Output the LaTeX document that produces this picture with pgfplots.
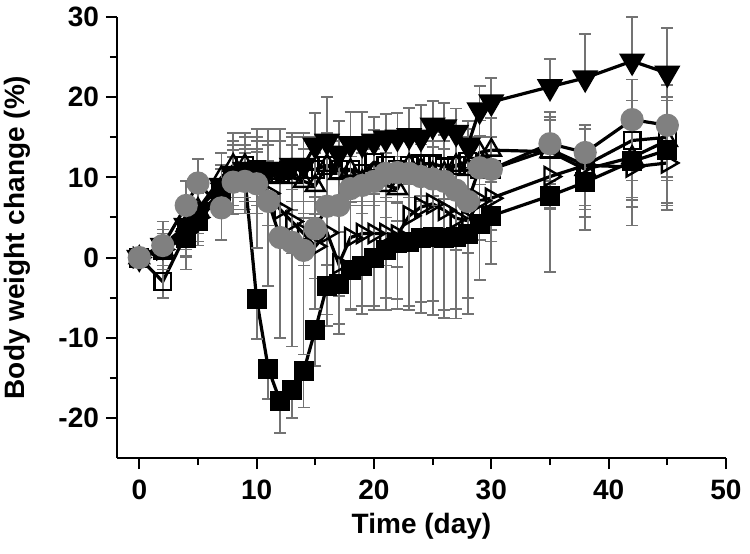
\documentclass[border=0pt]{standalone}
\usepackage{pgfplots}
\pgfplotsset{compat=1.18}
\usepackage{pgfplotstable}
\usepackage{fontspec}
\setmainfont{Liberation Sans}

% x y ep em
\pgfplotstableread{
x y ep em
0 0 0 0
2 1 2 2
4 2.5 2 4
5 4.5 2 3
7 8 3 3
8 9.5 3 3
9 10 3 3
10 -5.2 0 5
11 -13.9 0 3.7
12 -17.9 0 4
13 -16.5 0 3.5
14 -14.2 0 4.5
15 -9 0 4.5
16 -3.5 0 5
17 -3.3 0 5
18 -1.5 0 5
19 -1 0 6
20 0 0 6
21 1 0 6
22 1.8 0 7
23 2 0 8
24 2.5 0 8
25 2.6 0 8
26 2.5 0 9
27 2.6 0 9
28 3 0 8
29 4.2 0 7
30 5.2 0 6
35 7.7 0 9.5
38 9.4 0 6
42 12 0 8
45 13.4 0 7.5
}\fsq

\pgfplotstableread{
x y ep em
0 0 0 0
2 1.5 2 0
4 4 2 0
5 6 3 0
7 9 4 0
8 10.5 4 0
9 11 4 0
10 11 5 0
11 11 5 0
12 11 5 0
13 11.5 4 0
14 11.5 4 0
15 14 4 0
16 14.5 5.5 0
17 13 4 0
18 14.2 4 0
19 14.2 4 0
20 14.5 3 0
21 14.9 3 0
22 15 3 0
23 15.2 3.5 0
24 15 4 0
25 16.5 3 0
26 16.3 3 0
27 15.6 3 0
28 14 3 0
29 18.4 3 0
30 19.4 3 0
35 21.3 3.5 0
38 22.4 5.5 0
42 24.5 5.5 0
45 23 5.6 0
}\fdt

\pgfplotstableread{
x y ep em
0 0 0 0
2 -3 2 2
4 3 3 3
5 5 3 3
7 8 3 3
8 10 4 4
9 11.5 4 4
10 11 4 4
11 10.5 4 4
12 10.5 4 4
13 11 4 4
14 11 4 4
15 11 4 4
16 11.5 4 4
17 11 4 4
18 11 4 4
19 10.5 4 4
20 11.9 4 4
21 11.5 4 4
22 11 4 4
23 11.5 4 4
24 11.7 4 4
25 11.7 4 4
26 11.3 4 4
27 11.5 4 4
28 12 4 4
29 11 4 4
30 11 4 4
35 13.5 4 4
38 11.5 5 5
42 14.6 5 5
45 15 5 5
}\osq

\pgfplotstableread{
x y ep em
0 0 0 0
2 1 2 2
4 4 3 3
5 6 3 3
7 10 3 3
8 11.5 4 4
9 11.5 4 4
10 10.5 4 4
11 10 4 4
12 10.5 4 4
13 10 4 4
14 9.5 4 4
15 9 4 4
16 11.5 4 4
17 10.5 4 4
18 10.9 4 4
19 9.5 4 4
20 10.5 4 4
21 9 4 4
22 8.6 4 4
23 11.5 4 4
24 11 4 4
25 10.5 4 4
26 10.5 4 4
27 11.5 4 4
28 11 4 4
29 13.1 4 4
30 13.4 4 4
35 13.2 4 4
38 11 5 5
42 12.5 5 5
45 14.6 5 5
}\out

\pgfplotstableread{
x y ep em
0 0 0 0
2 1 2 2
4 3.2 3 3
5 5 3 3
7 8.5 3 3
8 10 4 4
9 10 4 4
10 9.5 4 4
11 8 4 4
12 6 4 4
13 4.5 4 4
14 3 4 4
15 1.4 4 4
16 3.1 4 4
17 -0.8 4 4
18 2.5 4 4
19 3 4 4
20 3 4 4
21 3 4 4
22 2.8 4 4
23 5.2 4 4
24 6.3 4 4
25 6.7 4 4
26 5.9 4 4
27 4.9 4 4
28 4.6 4 4
29 7.1 4 4
30 7.4 4 4
35 10.1 4 4
38 11.5 5 5
42 11.3 5 5
45 11.8 5 5
}\ort

\pgfplotstableread{
x y ep em
0 0 0 0
2 1.5 3 3
4 6.5 3 3
5 9.3 3 3
7 6.2 3 4
8 9.4 4 4
9 9.5 4 4
10 9.2 4 8
11 7 4 10.5
12 2.5 4 12.5
13 1.9 4 13
14 0.9 4 13
15 3.6 4 10
16 6.4 4 13.5
17 6.5 4 16
18 8.6 4 15
19 9 4 15
20 9.5 4 16
21 10.5 4 17
22 10.6 4 17
23 10.5 4 17
24 10.1 4 17
25 9.8 4 17
26 9.5 4 17
27 8.4 4 16
28 7 4 14
29 11.2 4 9
30 11 4 9
35 14.2 4 8
38 13.1 3.5 8
42 17.2 5 10
45 16.5 5 10
}\gci

\begin{document}
\begin{tikzpicture}
\useasboundingbox (-58.5pt,-47.5pt) rectangle (316.5pt,229pt);
\begin{axis}[
  at={(0,0)}, anchor=south west,
  scale only axis, width=304.5pt, height=220.5pt,
  xmin=-1.9, xmax=50, ymin=-25, ymax=30,
  axis lines=left, axis line style={-, line width=1pt},
  xtick={0,10,...,50}, ytick={-20,-10,...,30},
  minor xtick={5,15,...,45}, minor ytick={-15,-5,...,25},
  tick align=outside, major tick length=5.5pt, minor tick length=3.5pt,
  every tick/.style={black, line width=1pt},
  /pgf/number format/assume math mode=true,
  ticklabel style={font=\fontsize{14}{14}\selectfont\bfseries},
  xticklabel style={yshift=-2pt},
  label style={font=\fontsize{14}{14}\selectfont\bfseries},
  xlabel={Time (day)}, ylabel={Body weight change (\%)},
  xlabel style={yshift=0pt},
  ylabel style={yshift=7pt},
  clip=false,
  error bars/y dir=both, error bars/y explicit,
  error bars/error bar style={black!55, line width=0.9pt, solid},
  error bars/error mark options={rotate=90, mark size=3pt, black!55, line width=0.9pt},
]
\addplot[black, line width=1.6pt, sharp plot, mark=triangle, mark options={rotate=-90, mark size=5.5pt, fill=white, draw=black, line width=1.2pt, solid}]
  table[x=x, y=y, y error plus=ep, y error minus=em] {\ort};
\addplot[black, line width=1.6pt, sharp plot, mark=square*, mark options={mark size=4.2pt, fill=black, draw=black, solid}]
  table[x=x, y=y, y error plus=ep, y error minus=em] {\fsq};
\addplot[black, line width=1.6pt, sharp plot, mark=triangle, mark options={mark size=5.5pt, fill=white, draw=black, line width=1.2pt, solid}]
  table[x=x, y=y, y error plus=ep, y error minus=em] {\out};
\addplot[black, line width=1.6pt, sharp plot, mark=square, mark options={mark size=4.2pt, fill=white, draw=black, line width=1.2pt, solid}]
  table[x=x, y=y, y error plus=ep, y error minus=em] {\osq};
\addplot[black, line width=1.6pt, sharp plot, mark=triangle*, mark options={rotate=180, mark size=6pt, fill=black, draw=black, solid}]
  table[x=x, y=y, y error plus=ep, y error minus=em] {\fdt};
\addplot[black, line width=1.6pt, sharp plot, mark=*, mark options={mark size=5pt, fill=gray, draw=gray, solid}]
  table[x=x, y=y, y error plus=ep, y error minus=em] {\gci};
\end{axis}
\end{tikzpicture}
\end{document}
